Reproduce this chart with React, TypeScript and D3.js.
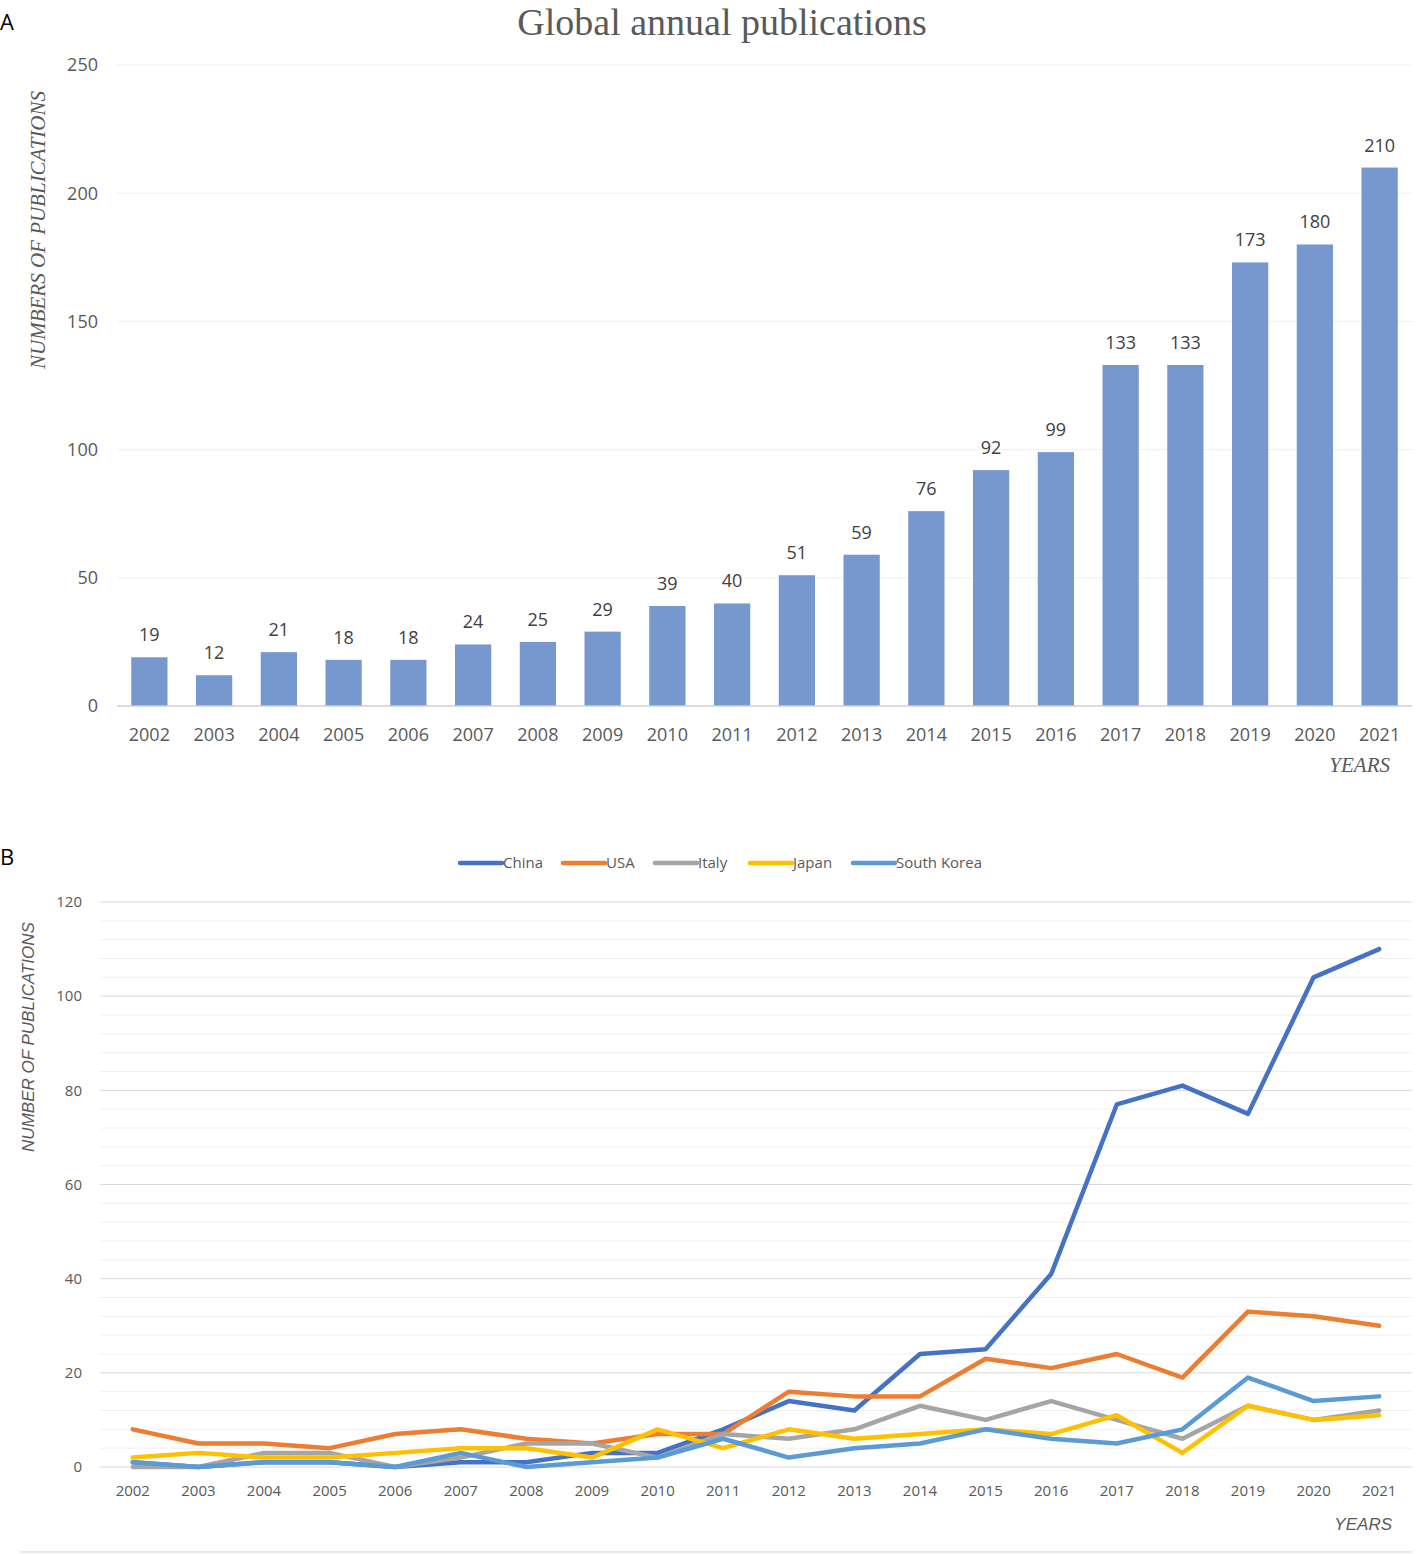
import React, { useEffect, useRef } from 'react';
import * as d3 from 'd3';

const years = ['2002', '2003', '2004', '2005', '2006', '2007', '2008', '2009', '2010', '2011',
	'2012', '2013', '2014', '2015', '2016', '2017', '2018', '2019', '2020', '2021'];

// panel A: global totals
const globalCounts = [19, 12, 21, 18, 18, 24, 25, 29, 39, 40, 51, 59, 76, 92, 99, 133, 133, 173, 180, 210];
const globalTicks = [0, 50, 100, 150, 200, 250];

// panel B: by country
const countries = ['China', 'USA', 'Italy', 'Japan', 'South Korea'];
const countryColors = ['#4472C4', '#ED7D31', '#A5A5A5', '#FFC000', '#5B9BD5'];
const china = [1, 0, 1, 1, 0, 1, 1, 3, 3, 8, 14, 12, 24, 25, 41, 77, 81, 75, 104, 110];
const usa = [8, 5, 5, 4, 7, 8, 6, 5, 7, 7, 16, 15, 15, 23, 21, 24, 19, 33, 32, 30];
const italy = [0, 0, 3, 3, 0, 2, 5, 5, 2, 7, 6, 8, 13, 10, 14, 10, 6, 13, 10, 12];
const japan = [2, 3, 2, 2, 3, 4, 4, 2, 8, 4, 8, 6, 7, 8, 7, 11, 3, 13, 10, 11];
const southKorea = [1, 0, 1, 1, 0, 3, 0, 1, 2, 6, 2, 4, 5, 8, 6, 5, 8, 19, 14, 15];
const countrySeries = [china, usa, italy, japan, southKorea];
const countryTicks = [0, 20, 40, 60, 80, 100, 120];

const SANS = '"Open Sans", "Liberation Sans", sans-serif';
const SERIF = '"Liberation Serif", "DejaVu Serif", serif';

const App: React.FC = () => {
	const svgRef = useRef<SVGSVGElement>(null);

	useEffect(() => {
		if (svgRef.current == null) return;
		const svg = d3.select(svgRef.current);
		svg.selectAll('*').remove();

		// ---------- Panel A ----------
		svg.append('text').attr('x', 0).attr('y', 30)
			.style('font-family', SANS).style('font-size', '22px').style('fill', '#000')
			.text('A');

		svg.append('text').attr('x', 722).attr('y', 35).attr('text-anchor', 'middle')
			.style('font-family', SERIF).style('font-size', '38px').style('fill', '#595959')
			.text('Global annual publications');

		const xA = d3.scaleBand().domain(years).range([117, 1412]).paddingInner(0.44).paddingOuter(0.22);
		const yA = d3.scaleLinear().domain([0, 250]).range([706, 65]);

		globalTicks.forEach(t => {
			if (t > 0) {
				svg.append('line').attr('x1', 117).attr('x2', 1412).attr('y1', yA(t)).attr('y2', yA(t))
					.attr('stroke', '#EFEFEF').attr('stroke-width', 1);
			}
			svg.append('text').attr('x', 98).attr('y', yA(t)).attr('dy', '0.35em').attr('text-anchor', 'end')
				.style('font-family', SANS).style('font-size', '18px').style('fill', '#595959')
				.text(t);
		});

		svg.selectAll('.barA').data(globalCounts).enter().append('rect')
			.attr('x', (_d, i) => xA(years[i]) as number)
			.attr('y', d => yA(d))
			.attr('width', xA.bandwidth())
			.attr('height', d => yA(0) - yA(d))
			.attr('fill', '#7698CF');

		svg.selectAll('.valA').data(globalCounts).enter().append('text')
			.attr('x', (_d, i) => (xA(years[i]) as number) + xA.bandwidth() / 2)
			.attr('y', d => yA(d) - 16)
			.attr('text-anchor', 'middle')
			.style('font-family', SANS).style('font-size', '18px').style('fill', '#404040')
			.text(d => d);

		svg.append('line').attr('x1', 117).attr('x2', 1412).attr('y1', yA(0)).attr('y2', yA(0))
			.attr('stroke', '#D0D0D0').attr('stroke-width', 1.5);

		years.forEach(yr => {
			svg.append('text').attr('x', (xA(yr) as number) + xA.bandwidth() / 2).attr('y', 741)
				.attr('text-anchor', 'middle')
				.style('font-family', SANS).style('font-size', '18px').style('fill', '#595959')
				.text(yr);
		});

		svg.append('text').attr('transform', 'translate(45,230) rotate(-90)').attr('text-anchor', 'middle')
			.style('font-family', SERIF).style('font-style', 'italic').style('font-size', '21px').style('fill', '#595959')
			.text('NUMBERS OF PUBLICATIONS');

		svg.append('text').attr('x', 1390).attr('y', 772).attr('text-anchor', 'end')
			.style('font-family', SERIF).style('font-style', 'italic').style('font-size', '21px').style('fill', '#595959')
			.text('YEARS');

		// ---------- Panel B ----------
		svg.append('text').attr('x', 0).attr('y', 865)
			.style('font-family', SANS).style('font-size', '22px').style('fill', '#000')
			.text('B');

		const xB = d3.scalePoint().domain(years).range([100, 1412]).padding(0.5);
		const yB = d3.scaleLinear().domain([0, 120]).range([1467, 902]);

		d3.range(4, 120, 4).forEach(v => {
			if (v % 20 === 0) return;
			svg.append('line').attr('x1', 100).attr('x2', 1412).attr('y1', yB(v)).attr('y2', yB(v))
				.attr('stroke', '#F0F0F0').attr('stroke-width', 1);
		});
		countryTicks.forEach(t => {
			svg.append('line').attr('x1', 100).attr('x2', 1412).attr('y1', yB(t)).attr('y2', yB(t))
				.attr('stroke', '#D9D9D9').attr('stroke-width', 1);
			svg.append('text').attr('x', 82).attr('y', yB(t)).attr('dy', '0.35em').attr('text-anchor', 'end')
				.style('font-family', SANS).style('font-size', '15px').style('fill', '#595959')
				.text(t);
		});

		const line = d3.line<number>()
			.x((_d, i) => xB(years[i]) as number)
			.y(d => yB(d));

		countrySeries.forEach((s, k) => {
			svg.append('path').datum(s).attr('d', line)
				.attr('fill', 'none').attr('stroke', countryColors[k]).attr('stroke-width', 4.5)
				.attr('stroke-linejoin', 'round').attr('stroke-linecap', 'round');
		});

		years.forEach(yr => {
			svg.append('text').attr('x', xB(yr) as number).attr('y', 1496).attr('text-anchor', 'middle')
				.style('font-family', SANS).style('font-size', '15px').style('fill', '#595959')
				.text(yr);
		});

		svg.append('text').attr('transform', 'translate(34,1037) rotate(-90)').attr('text-anchor', 'middle')
			.style('font-family', '"Liberation Sans", sans-serif').style('font-style', 'italic').style('font-size', '17px').style('fill', '#595959')
			.text('NUMBER OF PUBLICATIONS');

		svg.append('text').attr('x', 1392).attr('y', 1530).attr('text-anchor', 'end')
			.style('font-family', '"Liberation Sans", sans-serif').style('font-style', 'italic').style('font-size', '17px').style('fill', '#595959')
			.text('YEARS');

		// legend
		const legendX = [460, 563, 655, 750, 853];
		countries.forEach((c, k) => {
			const g = svg.append('g').attr('transform', `translate(${legendX[k]},863)`);
			g.append('line').attr('x1', 0).attr('x2', 42).attr('y1', 0).attr('y2', 0)
				.attr('stroke', countryColors[k]).attr('stroke-width', 4.5).attr('stroke-linecap', 'round');
			g.append('text').attr('x', 43).attr('y', 0).attr('dy', '0.35em')
				.style('font-family', SANS).style('font-size', '15px').style('fill', '#595959')
				.text(c);
		});

		svg.append('line').attr('x1', 20).attr('x2', 1412).attr('y1', 1552).attr('y2', 1552)
			.attr('stroke', '#E0E0E0').attr('stroke-width', 1.5);
	}, []);

	return (
		<svg ref={svgRef} width={1426} height={1554}
			style={{ position: 'absolute', left: 0, top: 0, background: '#fff' }} />
	);
};

export default App;
